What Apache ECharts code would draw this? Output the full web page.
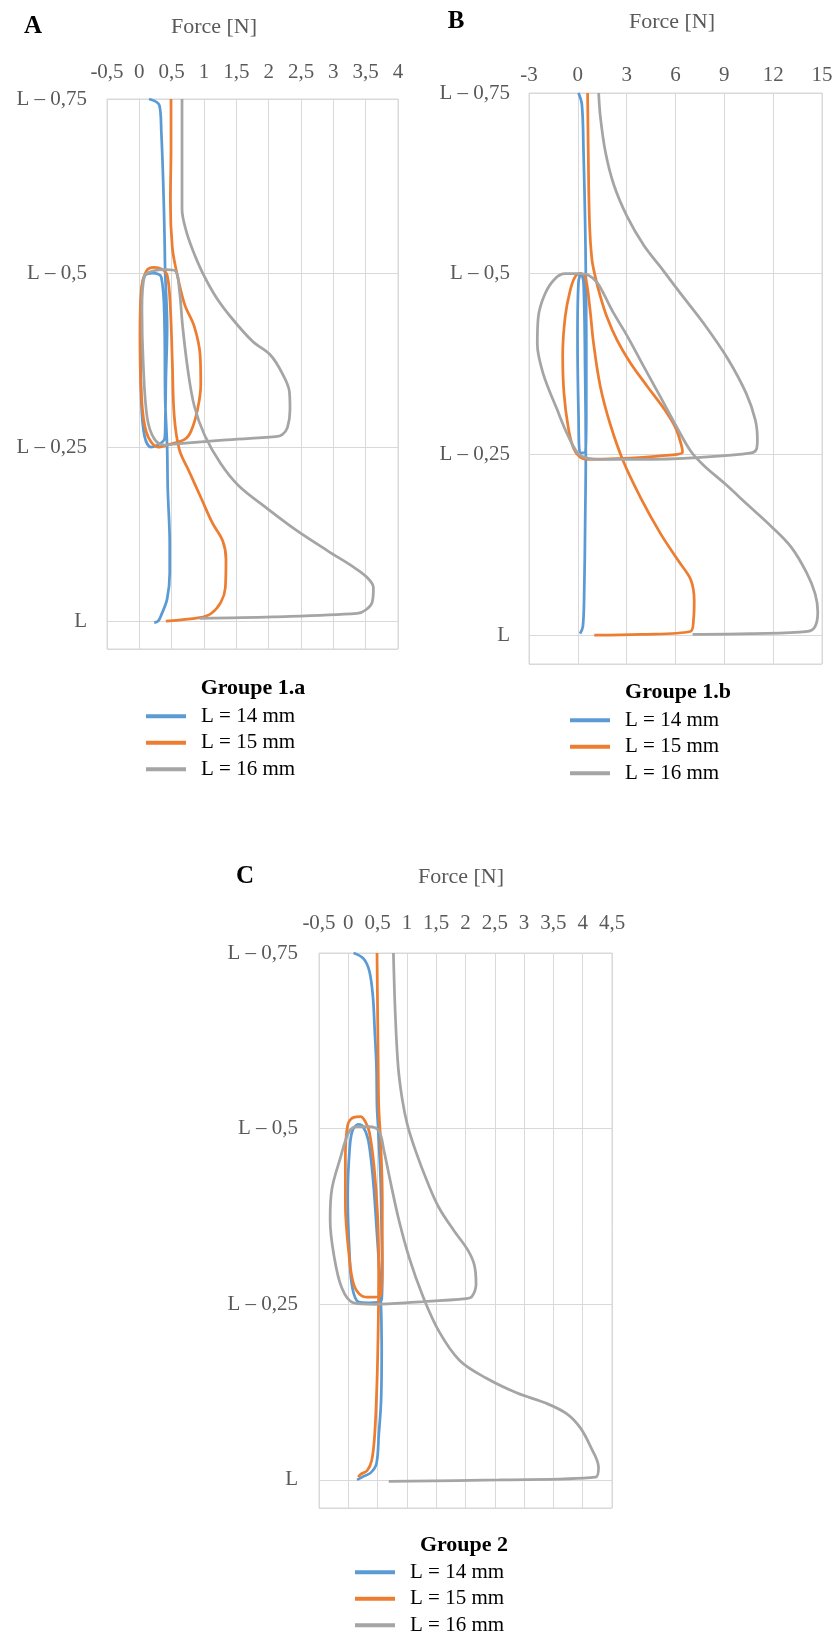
<!DOCTYPE html>
<html><head><meta charset="utf-8">
<script src="https://cdn.jsdelivr.net/npm/echarts@6/dist/echarts.min.js"></script>
<style>html,body{margin:0;padding:0;background:#fff}#c{width:834px;height:1640px}</style>
</head><body><div id="c"></div>
<script>
// ---------- labels ----------
const seriesNames = ['L = 14 mm', 'L = 15 mm', 'L = 16 mm'];
const groupTitles = ['Groupe 1.a', 'Groupe 1.b', 'Groupe 2'];
const panelLetters = ['A', 'B', 'C'];
const xAxisName = 'Force [N]';
const yTickValues = [-0.75, -0.5, -0.25, 0];
const yTickLabels = ['L – 0,75', 'L – 0,5', 'L – 0,25', 'L'];
const xRanges = [[-0.5, 4, 0.5], [-3, 15, 3], [-0.5, 4.5, 0.5]];

// ---------- Panel A (Groupe 1.a) ----------
const a14Force = [0.15,0.31,0.34,0.37,0.39,0.40,0.43,0.41,0.40,0.39,0.18,0.08,0.03,0.02,0.03,0.08,0.21,0.34,0.39,0.40,0.43,0.44,0.47,0.47,0.43,0.34,0.29,0.23];
const a14Pos   = [-0.75,-0.741,-0.703,-0.628,-0.552,-0.5,-0.423,-0.345,-0.277,-0.262,-0.25,-0.266,-0.318,-0.397,-0.465,-0.496,-0.5,-0.494,-0.423,-0.318,-0.25,-0.189,-0.111,-0.069,-0.032,-0.009,0,0.002];
const a15Force = [0.49,0.49,0.48,0.51,0.58,0.70,0.85,0.94,0.95,0.90,0.80,0.70,0.47,0.29,0.11,0.03,0.01,0.03,0.11,0.23,0.34,0.43,0.48,0.51,0.54,0.62,0.77,0.95,1.13,1.29,1.34,1.33,1.26,1.11,0.93,0.41];
const a15Pos   = [-0.75,-0.678,-0.602,-0.537,-0.5,-0.455,-0.423,-0.382,-0.34,-0.304,-0.273,-0.261,-0.254,-0.25,-0.271,-0.328,-0.412,-0.475,-0.503,-0.508,-0.506,-0.497,-0.45,-0.372,-0.294,-0.246,-0.215,-0.178,-0.141,-0.115,-0.089,-0.048,-0.027,-0.011,-0.005,0];
const a16Force = [0.66,0.66,0.66,0.72,0.83,0.98,1.19,1.44,1.75,2.03,2.21,2.32,2.33,2.29,2.21,2.11,1.29,0.62,0.39,0.23,0.12,0.06,0.04,0.08,0.21,0.41,0.56,0.62,0.67,0.75,0.85,1.01,1.26,1.54,1.96,2.42,2.93,3.29,3.52,3.62,3.60,3.50,3.37,2.06,0.93];
const a16Pos   = [-0.75,-0.678,-0.592,-0.562,-0.532,-0.5,-0.465,-0.434,-0.402,-0.382,-0.356,-0.33,-0.304,-0.278,-0.268,-0.265,-0.26,-0.255,-0.253,-0.262,-0.293,-0.371,-0.449,-0.496,-0.503,-0.505,-0.503,-0.475,-0.423,-0.361,-0.309,-0.267,-0.226,-0.194,-0.163,-0.131,-0.1,-0.079,-0.063,-0.048,-0.027,-0.016,-0.011,-0.006,-0.004];

// ---------- Panel B (Groupe 1.b) ----------
const b14Force = [0.04,0.25,0.35,0.45,0.49,0.52,0.52,0.47,0.14,0.04,-0.02,0.04,0.19,0.35,0.45,0.49,0.45,0.39,0.31,0.14];
const b14Pos   = [-0.75,-0.734,-0.669,-0.569,-0.5,-0.413,-0.307,-0.254,-0.252,-0.307,-0.413,-0.488,-0.5,-0.488,-0.36,-0.25,-0.155,-0.057,-0.012,-0.002];
const b15Force = [0.60,0.64,0.72,0.87,1.07,1.34,1.79,2.41,3.24,4.27,5.30,6.02,6.39,6.43,5.09,2.41,0.56,0.14,-0.27,-0.58,-0.85,-0.93,-0.78,-0.47,-0.16,0.14,0.45,0.72,0.97,1.38,2.00,2.82,3.86,5.09,6.23,6.95,7.15,7.11,6.91,3.86,1.01];
const b15Pos   = [-0.75,-0.669,-0.569,-0.519,-0.496,-0.472,-0.44,-0.408,-0.376,-0.344,-0.313,-0.286,-0.26,-0.253,-0.248,-0.244,-0.243,-0.246,-0.259,-0.286,-0.334,-0.387,-0.44,-0.477,-0.496,-0.5,-0.496,-0.456,-0.403,-0.344,-0.291,-0.239,-0.19,-0.14,-0.101,-0.076,-0.047,-0.022,-0.005,-0.001,0];
const b16Force = [1.28,1.38,1.69,2.21,3.03,4.06,5.09,6.33,7.77,9.22,10.35,10.91,11.03,10.97,10.66,7.57,3.86,1.38,0.14,-0.58,-1.29,-2.12,-2.49,-2.43,-2.02,-1.40,-0.78,0.04,0.66,1.18,1.59,2.21,3.03,4.06,5.09,6.12,6.95,7.77,9.01,10.45,11.90,13.13,14.06,14.58,14.74,14.58,14.12,10.66,7.05];
const b16Pos   = [-0.75,-0.718,-0.669,-0.623,-0.579,-0.539,-0.509,-0.472,-0.43,-0.382,-0.334,-0.297,-0.27,-0.257,-0.252,-0.246,-0.243,-0.243,-0.249,-0.275,-0.313,-0.361,-0.403,-0.44,-0.472,-0.493,-0.5,-0.5,-0.498,-0.488,-0.472,-0.445,-0.414,-0.371,-0.329,-0.286,-0.254,-0.234,-0.21,-0.18,-0.15,-0.121,-0.086,-0.057,-0.032,-0.012,-0.005,-0.002,-0.001];

// ---------- Panel C (Groupe 2) ----------
const c14Force = [0.09,0.26,0.36,0.42,0.45,0.48,0.49,0.51,0.55,0.57,0.58,0.57,0.35,0.18,0.07,0.02,-0.01,0.02,0.07,0.17,0.25,0.34,0.42,0.49,0.55,0.57,0.56,0.52,0.48,0.38,0.26,0.15];
const c14Pos   = [-0.75,-0.742,-0.724,-0.688,-0.641,-0.589,-0.531,-0.5,-0.43,-0.349,-0.295,-0.257,-0.252,-0.253,-0.273,-0.322,-0.403,-0.468,-0.497,-0.506,-0.503,-0.484,-0.43,-0.349,-0.268,-0.19,-0.114,-0.064,-0.023,-0.01,-0.005,0];
const c15Force = [0.49,0.50,0.51,0.52,0.55,0.58,0.58,0.55,0.38,0.23,0.09,0.01,-0.05,-0.05,-0.01,0.09,0.21,0.29,0.36,0.44,0.50,0.52,0.51,0.49,0.45,0.40,0.32,0.21,0.17];
const c15Pos   = [-0.75,-0.667,-0.589,-0.531,-0.484,-0.403,-0.322,-0.262,-0.26,-0.262,-0.279,-0.322,-0.392,-0.457,-0.505,-0.516,-0.517,-0.51,-0.495,-0.446,-0.376,-0.295,-0.216,-0.14,-0.064,-0.028,-0.013,-0.008,-0.004];
const c16Force = [0.77,0.80,0.85,0.92,1.01,1.15,1.35,1.55,1.81,2.04,2.15,2.18,2.11,2.01,1.15,0.46,0.09,-0.11,-0.25,-0.31,-0.28,-0.14,0.01,0.15,0.35,0.52,0.61,0.72,0.86,1.04,1.27,1.55,1.90,2.35,2.87,3.38,3.73,3.96,4.13,4.27,4.22,2.58,0.69];
const c16Pos   = [-0.75,-0.667,-0.589,-0.542,-0.505,-0.468,-0.424,-0.387,-0.354,-0.327,-0.306,-0.279,-0.261,-0.258,-0.253,-0.25,-0.252,-0.273,-0.322,-0.371,-0.414,-0.457,-0.495,-0.503,-0.503,-0.497,-0.468,-0.424,-0.371,-0.316,-0.262,-0.211,-0.17,-0.145,-0.124,-0.109,-0.094,-0.074,-0.048,-0.018,-0.004,0,0.002];

// ---------- layout / style (not data) ----------
const SERIF = '"Liberation Serif", "Times New Roman", serif';
const COLORS = ['#5B9BD5', '#ED7D31', '#A5A5A5'];
const GRIDC = '#d9d9d9';
const LABELC = '#595959';
const Y_MAX = 0.04;
const ROW_H = 26.5;
const layout = [
  {grid:{left:107, top:99, width:291, height:550}, xMargin:16, yMargin:20,
   letter:[33,27], name:[214,27], gTitle:[253,688], legend:{left:146, top:703}},
  {grid:{left:529, top:93, width:293, height:571}, xMargin:7, yMargin:19,
   letter:[456,22], name:[672,22], gTitle:[678,692], legend:{left:570, top:707}},
  {grid:{left:319, top:953, width:293, height:555}, xMargin:19, yMargin:21,
   letter:[245,877], name:[461,877], gTitle:[464,1545], legend:{left:355, top:1559}}
];
const panelData = [
  [[a14Force,a14Pos],[a15Force,a15Pos],[a16Force,a16Pos]],
  [[b14Force,b14Pos],[b15Force,b15Pos],[b16Force,b16Pos]],
  [[c14Force,c14Pos],[c15Force,c15Pos],[c16Force,c16Pos]]
];

function yLabel(v){
  for (let i = 0; i < yTickValues.length; i++) if (Math.abs(v - yTickValues[i]) < 1e-6) return yTickLabels[i];
  return '';
}
function xLabel(v){ return String(v).replace('.', ','); }
function zip(f, p){ return f.map((x, i) => [x, p[i]]); }

const grids = [], xAxes = [], yAxes = [], series = [], legends = [], graphics = [];
layout.forEach((L, i) => {
  grids.push(Object.assign({show:true, borderColor:GRIDC, borderWidth:1, containLabel:false, outerBoundsMode:'none'}, L.grid));
  xAxes.push({
    gridIndex:i, type:'value', position:'top',
    min:xRanges[i][0], max:xRanges[i][1], interval:xRanges[i][2],
    axisLine:{show:true, lineStyle:{color:GRIDC}},
    axisTick:{show:true, inside:false, length:5, lineStyle:{color:GRIDC}},
    splitLine:{show:true, lineStyle:{color:GRIDC, width:1}},
    axisLabel:{margin:L.xMargin, fontFamily:SERIF, fontSize:21, color:LABELC, formatter:xLabel,
               showMinLabel:true, showMaxLabel:true}
  });
  yAxes.push({
    gridIndex:i, type:'value', inverse:true, min:-0.75, max:Y_MAX, interval:0.25,
    axisLine:{show:true, lineStyle:{color:GRIDC}},
    axisTick:{show:false},
    splitLine:{show:true, lineStyle:{color:GRIDC, width:1}},
    axisLabel:{margin:L.yMargin, fontFamily:SERIF, fontSize:21, color:LABELC, formatter:yLabel,
               showMinLabel:true}
  });
  panelData[i].forEach((d, k) => {
    series.push({
      type:'line', name:seriesNames[k], xAxisIndex:i, yAxisIndex:i,
      data:zip(d[0], d[1]), showSymbol:false, symbol:'none', smooth:0.35,
      lineStyle:{color:COLORS[k], width:2.75}, itemStyle:{color:COLORS[k]},
      silent:true, z:2 + k
    });
  });
  legends.push({
    data:seriesNames, orient:'vertical', left:L.legend.left, top:L.legend.top,
    padding:0, icon:'rect', itemWidth:40, itemHeight:4, itemGap:0, selectedMode:false,
    textStyle:{fontFamily:SERIF, fontSize:21, color:'#000', lineHeight:ROW_H, padding:[0,0,0,10]}
  });
  graphics.push({type:'text', x:L.letter[0], y:L.letter[1],
    style:{text:panelLetters[i], fontFamily:SERIF, fontSize:25, fontWeight:'bold', fill:'#000', textAlign:'center', textVerticalAlign:'middle'}});
  graphics.push({type:'text', x:L.name[0], y:L.name[1],
    style:{text:xAxisName, fontFamily:SERIF, fontSize:22, fill:LABELC, textAlign:'center', textVerticalAlign:'middle'}});
  graphics.push({type:'text', x:L.gTitle[0], y:L.gTitle[1],
    style:{text:groupTitles[i], fontFamily:SERIF, fontSize:22, fontWeight:'bold', fill:'#000', textAlign:'center', textVerticalAlign:'middle'}});
});

const chart = echarts.init(document.getElementById('c'), null, {renderer:'canvas'});
chart.setOption({
  animation:false,
  backgroundColor:'#fff',
  color:COLORS,
  grid:grids, xAxis:xAxes, yAxis:yAxes, series:series, legend:legends, graphic:graphics
});
</script></body></html>
